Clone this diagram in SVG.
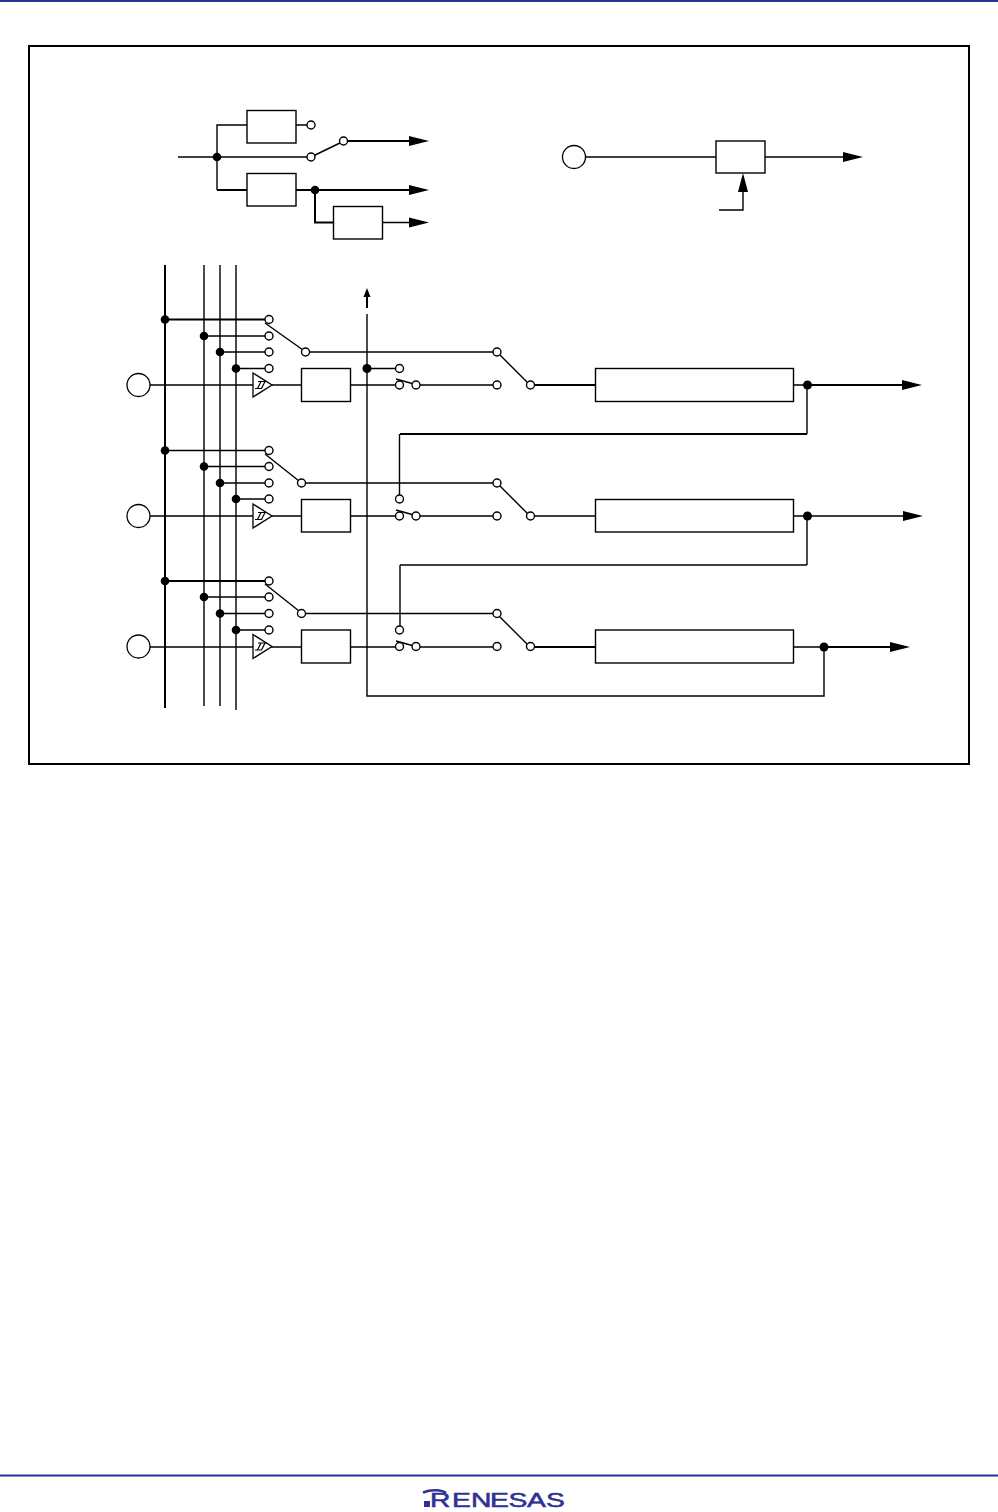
<svg xmlns="http://www.w3.org/2000/svg" width="998" height="1512" viewBox="0 0 998 1512">
<defs>
<style>
.w{fill:none;stroke:#000;stroke-width:1.4}
.t{fill:none;stroke:#000;stroke-width:2}
.b{fill:#fff;stroke:#000;stroke-width:1.4}
.o{fill:#fff;stroke:#000;stroke-width:1.4}
.p{fill:#fff;stroke:#000;stroke-width:1.3}
.d{fill:#000}
.a{fill:#000}
.s{fill:#fff;stroke:#000;stroke-width:1.3}
.z{fill:none;stroke:#000;stroke-width:1.2}
</style>
<g id="schmitt"><path class="s" d="M0,-12L19,0L0,12Z"/><path class="z" d="M2,3.500H9M4.500,3.500L8,-3.500M8.500,3.500L12,-3.500M5,-3.500H14"/></g>
<path id="arr" class="a" d="M0,-5L20,0L0,5Z"/>
</defs>
<rect x="0" y="0" width="998" height="2" fill="#2e3192"/>
<rect x="0" y="1474.500" width="998" height="2" fill="#2e3192"/>
<rect id="frame" x="29" y="46" width="940" height="718" fill="none" stroke="#000" stroke-width="2"/>

<g id="connectors">
<path class="w" d="M178,157H311M217,157V125H247M217,157V190"/>
<path class="t" d="M217,190H247M296,190H410M315,190V222.500H333"/>
<path class="w" d="M296,125H307M311,157L343,141.500M382,222.500H410"/>
<path class="t" d="M347,141H410"/>
<use href="#arr" x="409" y="141"/><use href="#arr" x="409" y="190"/><use href="#arr" x="409" y="222.500"/>
<path class="w" d="M585,157H716M765,157H843M743,190V210H719"/>
<use href="#arr" x="843" y="157"/>
<path class="a" d="M743,173L748,192H738Z"/>
<path class="t" d="M165,265V708"/>
<path class="w" d="M204,265V706M220,265V706M236,265V710"/>
<path class="t" d="M165,319.500H265"/>
<path class="w" d="M204,336H265M220,352H265M236,368.500H265M150,385H253M271,385H301M351,385H396M420,385H493M309,352H493"/>
<path class="w" d="M265,323L303,350M497,352L530,385"/>
<path class="t" d="M534,385H595M807,385H903M400,434H807"/>
<path class="w" d="M793,385H807M807,385V434M399.500,434V495"/>
<path class="w" d="M396,379L414,384"/>
<use href="#arr" x="902" y="385"/>
<path class="w" d="M165,450.500H265M204,466.500H265M220,483H265M236,499H265M150,516H253M271,516H301M351,516H396M420,516H493M305,483H493"/>
<path class="w" d="M265,454L299,481M497,483L530,516"/>
<path class="w" d="M534,516H595M793,516H903M807,516V565M400,565H807M400,565V626"/>
<path class="w" d="M396,510L414,515"/>
<use href="#arr" x="903" y="516"/>
<path class="t" d="M165,581H265"/>
<path class="w" d="M204,597H265M220,613.500H265M236,630H265M150,647H253M271,647H301M351,647H396M420,647H493M305,613.500H493"/>
<path class="w" d="M265,584L299,611M497,614L530,647"/>
<path class="t" d="M534,647H595M824,647H890"/>
<path class="w" d="M793,647H824M824,647V696H367V314M367,368.500H395"/>
<path class="w" d="M396,641L414,646"/>
<use href="#arr" x="890" y="647"/>
<path class="t" d="M367,296V308"/>
<path class="a" d="M367,288L370.500,297H363.500Z"/>
</g>

<g id="mux-top"><rect class="b" x="247" y="110.500" width="49" height="32.500"/></g>
<g id="buf-top"><rect class="b" x="247" y="173.500" width="49" height="32.500"/></g>
<g id="buf-side"><rect class="b" x="333.500" y="206.500" width="49" height="32.500"/></g>
<g id="box-right"><rect class="b" x="716" y="141" width="49" height="32"/></g>
<g id="box-a1"><rect class="b" x="301.500" y="368.500" width="49" height="33"/></g>
<g id="box-a2"><rect class="b" x="595.500" y="368.500" width="198" height="33"/></g>
<g id="box-b1"><rect class="b" x="301.500" y="499.500" width="49" height="32.500"/></g>
<g id="box-b2"><rect class="b" x="595.500" y="499.500" width="198" height="32.500"/></g>
<g id="box-c1"><rect class="b" x="301.500" y="630" width="49" height="33"/></g>
<g id="box-c2"><rect class="b" x="595.500" y="630" width="198" height="33"/></g>
<g id="pin-right"><circle class="p" cx="574" cy="157" r="11.500"/></g>
<g id="pin-a"><circle class="p" cx="138.500" cy="385" r="11.500"/></g>
<g id="pin-b"><circle class="p" cx="138.500" cy="516" r="11.500"/></g>
<g id="pin-c"><circle class="p" cx="138.500" cy="646.500" r="11.500"/></g>
<g id="schmitt-a"><use href="#schmitt" x="253" y="385"/></g>
<g id="schmitt-b"><use href="#schmitt" x="253" y="516"/></g>
<g id="schmitt-c"><use href="#schmitt" x="253" y="646.500"/></g>

<g id="junctions">
<circle class="d" cx="217" cy="157" r="4.300"/><circle class="d" cx="315" cy="190" r="4.300"/>
<circle class="d" cx="165" cy="319.500" r="4.300"/><circle class="d" cx="204" cy="336" r="4.300"/><circle class="d" cx="220" cy="352" r="4.300"/><circle class="d" cx="236" cy="368.500" r="4.300"/>
<circle class="d" cx="165" cy="450.500" r="4.300"/><circle class="d" cx="204" cy="466.500" r="4.300"/><circle class="d" cx="220" cy="483" r="4.300"/><circle class="d" cx="236" cy="499" r="4.300"/>
<circle class="d" cx="165" cy="581" r="4.300"/><circle class="d" cx="204" cy="597" r="4.300"/><circle class="d" cx="220" cy="613.500" r="4.300"/><circle class="d" cx="236" cy="630" r="4.300"/>
<circle class="d" cx="367" cy="368.500" r="4.500"/><circle class="d" cx="807.500" cy="385" r="4.500"/><circle class="d" cx="807.500" cy="516" r="4.500"/><circle class="d" cx="824" cy="647" r="4.500"/>
</g>
<g id="terminals">
<circle class="o" cx="311" cy="125" r="4"/><circle class="o" cx="311" cy="157" r="4"/><circle class="o" cx="343.500" cy="141" r="4"/>
<circle class="o" cx="269" cy="319.500" r="4"/><circle class="o" cx="269" cy="336" r="4"/><circle class="o" cx="269" cy="352" r="4"/><circle class="o" cx="269" cy="368.500" r="4"/><circle class="o" cx="305.500" cy="352" r="4"/>
<circle class="o" cx="399.500" cy="368.500" r="4"/><circle class="o" cx="399.500" cy="385" r="4"/><circle class="o" cx="416" cy="385" r="4"/><circle class="o" cx="497" cy="352" r="4"/><circle class="o" cx="497" cy="385" r="4"/><circle class="o" cx="530.500" cy="385" r="4"/>
<circle class="o" cx="269" cy="450.500" r="4"/><circle class="o" cx="269" cy="466.500" r="4"/><circle class="o" cx="269" cy="483" r="4"/><circle class="o" cx="269" cy="499" r="4"/><circle class="o" cx="301.500" cy="483" r="4"/>
<circle class="o" cx="399.500" cy="499" r="4"/><circle class="o" cx="399.500" cy="516" r="4"/><circle class="o" cx="416" cy="516" r="4"/><circle class="o" cx="497" cy="483" r="4"/><circle class="o" cx="497" cy="516" r="4"/><circle class="o" cx="530.500" cy="516" r="4"/>
<circle class="o" cx="269" cy="581" r="4"/><circle class="o" cx="269" cy="597" r="4"/><circle class="o" cx="269" cy="613.500" r="4"/><circle class="o" cx="269" cy="630" r="4"/><circle class="o" cx="301.500" cy="613.500" r="4"/>
<circle class="o" cx="399.500" cy="630" r="4"/><circle class="o" cx="399.500" cy="646.500" r="4"/><circle class="o" cx="416" cy="646.500" r="4"/><circle class="o" cx="497" cy="613.500" r="4"/><circle class="o" cx="497" cy="646.500" r="4"/><circle class="o" cx="530.500" cy="646.500" r="4"/>
</g>
<g id="logo">
<path d="M423,1492.500C432,1489 442,1490 446,1493" fill="none" stroke="#2e3192" stroke-width="2.500"/>
<rect x="424" y="1501" width="6" height="6" fill="#2e3192"/>
<text transform="scale(1.45,1)" x="296.600 311.700 324.800 337.900 350.700 363.400 376.600" y="1507" font-family="'Liberation Sans',sans-serif" font-size="19.500" fill="#2e3192" stroke="#2e3192" stroke-width="0.500">RENESAS</text>
</g>
</svg>
